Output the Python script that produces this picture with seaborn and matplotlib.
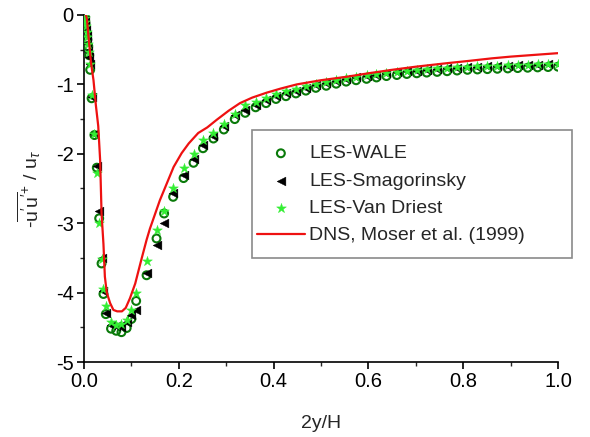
import matplotlib
matplotlib.use("Agg")
import matplotlib.pyplot as plt
from matplotlib.patches import Rectangle
import seaborn as sns
import pandas as pd

# Wall-normal coordinate of the LES grid nodes (2y/H)
x_les = [0.001, 0.002, 0.003, 0.004, 0.006, 0.007, 0.009, 0.011, 0.013, 0.016,
         0.022, 0.027, 0.032, 0.037, 0.041, 0.046, 0.057, 0.068, 0.079, 0.090,
         0.100, 0.110, 0.132, 0.153, 0.169, 0.188, 0.210, 0.231, 0.251, 0.273,
         0.295, 0.318, 0.340, 0.362, 0.384, 0.405, 0.426, 0.447, 0.468, 0.489,
         0.511, 0.532, 0.553, 0.574, 0.596, 0.617, 0.638, 0.660, 0.681, 0.702,
         0.723, 0.745, 0.766, 0.787, 0.809, 0.830, 0.851, 0.872, 0.894, 0.915,
         0.936, 0.957, 0.979, 1.000]

wale = [-0.02, -0.06, -0.12, -0.18, -0.26, -0.35, -0.45, -0.58, -0.79, -1.20,
        -1.73, -2.20, -2.93, -3.58, -4.02, -4.31, -4.52, -4.55, -4.57, -4.51,
        -4.38, -4.12, -3.75, -3.22, -2.86, -2.62, -2.35, -2.13, -1.92, -1.78,
        -1.65, -1.50, -1.41, -1.33, -1.27, -1.21, -1.17, -1.13, -1.09, -1.05,
        -1.02, -0.99, -0.96, -0.94, -0.92, -0.90, -0.88, -0.865, -0.85, -0.84,
        -0.83, -0.82, -0.81, -0.80, -0.79, -0.785, -0.78, -0.775, -0.77, -0.765,
        -0.76, -0.755, -0.75, -0.745]

smagorinsky = [-0.02, -0.07, -0.14, -0.21, -0.30, -0.40, -0.52, -0.60, -0.70, -1.18,
               -1.72, -2.17, -2.83, -3.50, -3.98, -4.30, -4.46, -4.48, -4.50, -4.43,
               -4.32, -4.25, -3.72, -3.31, -3.00, -2.57, -2.30, -2.08, -1.88, -1.74,
               -1.60, -1.44, -1.37, -1.29, -1.23, -1.17, -1.13, -1.09, -1.05, -1.01,
               -0.98, -0.95, -0.92, -0.90, -0.88, -0.86, -0.84, -0.825, -0.81, -0.80,
               -0.79, -0.78, -0.77, -0.76, -0.75, -0.745, -0.74, -0.735, -0.73, -0.725,
               -0.72, -0.715, -0.71, -0.705]

van_driest = [-0.01, -0.05, -0.10, -0.16, -0.24, -0.32, -0.42, -0.54, -0.70, -1.15,
              -1.72, -2.27, -2.99, -3.52, -3.95, -4.20, -4.43, -4.46, -4.45, -4.40,
              -4.25, -4.00, -3.54, -3.10, -2.82, -2.50, -2.21, -2.00, -1.80, -1.70,
              -1.57, -1.42, -1.30, -1.25, -1.19, -1.14, -1.10, -1.06, -1.03, -0.99,
              -0.96, -0.93, -0.91, -0.89, -0.87, -0.85, -0.83, -0.815, -0.80, -0.79,
              -0.78, -0.77, -0.76, -0.75, -0.745, -0.74, -0.735, -0.73, -0.725, -0.72,
              -0.715, -0.71, -0.705, -0.70]

# DNS reference profile
x_dns = [0.004, 0.006, 0.010, 0.015, 0.020, 0.025, 0.030, 0.034, 0.037, 0.041,
         0.044, 0.048, 0.055, 0.062, 0.070, 0.080, 0.088, 0.097, 0.108, 0.120,
         0.132, 0.139, 0.160, 0.189, 0.206, 0.221, 0.241, 0.260, 0.280, 0.305,
         0.329, 0.355, 0.385, 0.415, 0.449, 0.500, 0.554, 0.600, 0.650, 0.700,
         0.765, 0.814, 0.860, 0.900, 0.950, 1.000]
dns = [0.00, -0.05, -0.35, -0.70, -0.94, -1.30, -1.60, -2.09, -2.86, -3.30,
       -3.77, -4.00, -4.15, -4.25, -4.27, -4.27, -4.22, -4.08, -3.87, -3.55,
       -3.24, -3.08, -2.67, -2.19, -1.99, -1.85, -1.70, -1.62, -1.51, -1.38,
       -1.27, -1.19, -1.12, -1.06, -1.00, -0.94, -0.89, -0.84, -0.79, -0.745,
       -0.695, -0.66, -0.625, -0.60, -0.575, -0.55]

labels = ["LES-WALE", "LES-Smagorinsky", "LES-Van Driest", "DNS, Moser et al. (1999)"]
x_ticks = [0.0, 0.2, 0.4, 0.6, 0.8, 1.0]
x_ticklabels = ["0.0", "0.2", "0.4", "0.6", "0.8", "1.0"]
y_ticks = [0, -1, -2, -3, -4, -5]
y_ticklabels = ["0", "-1", "-2", "-3", "-4", "-5"]

sns.set_theme(style="ticks")
plt.rcParams["font.family"] = ["Liberation Sans", "DejaVu Sans"]
plt.rcParams["mathtext.fontset"] = "custom"
plt.rcParams["mathtext.rm"] = "Liberation Sans"
plt.rcParams["mathtext.it"] = "Liberation Sans:italic"
plt.rcParams["mathtext.sf"] = "Liberation Sans"
plt.rcParams["axes.unicode_minus"] = False

les = pd.DataFrame({"x": x_les, "wale": wale, "smag": smagorinsky, "vd": van_driest})
ref = pd.DataFrame({"x": x_dns, "dns": dns})

fig = plt.figure(figsize=(5.9, 4.37), dpi=100)
ax = fig.add_axes([0.1424, 0.1716, 0.8034, 0.7941])

sns.scatterplot(data=les, x="x", y="wale", ax=ax, marker="o", s=32,
                facecolors="none", edgecolor="#0a7a0a", linewidth=1.5,
                label=labels[0], zorder=3)
sns.scatterplot(data=les, x="x", y="smag", ax=ax, marker="<", s=40,
                color="black", edgecolor="black", linewidth=0.3,
                label=labels[1], zorder=4)
sns.scatterplot(data=les, x="x", y="vd", ax=ax, marker="*", s=55,
                color="#33ee33", edgecolor="#33ee33", linewidth=0.3,
                label=labels[2], zorder=5)
sns.lineplot(data=ref, x="x", y="dns", ax=ax, color="#ee1111", linewidth=1.6,
             sort=False, label=labels[3], zorder=6)

ax.set_xlim(0, 1)
ax.set_ylim(-5, 0)
ax.set_xticks(x_ticks)
ax.set_xticklabels(x_ticklabels)
ax.set_yticks(y_ticks)
ax.set_yticklabels(y_ticklabels)
ax.set_xticks([0.1, 0.3, 0.5, 0.7, 0.9], minor=True)
ax.set_yticks([-0.5, -1.5, -2.5, -3.5, -4.5], minor=True)
ax.tick_params(which="major", direction="out", length=5, width=1.2,
               labelsize=14.5, colors="black", pad=2.5)
ax.tick_params(which="minor", direction="out", length=3, width=1.0)

for side in ("top", "right"):
    ax.spines[side].set_visible(False)
for side in ("left", "bottom"):
    ax.spines[side].set_linewidth(1.2)
    ax.spines[side].set_color("black")

ax.set_xlabel("2y/H", fontsize=14, labelpad=17)
ax.set_ylabel(r"-$\overline{\mathrm{u'u'}}^{+}$ / u$_{\tau}$", fontsize=14, labelpad=9)

# Legend box, drawn as a plain rectangle that reaches past the right axis end
box = Rectangle((0.354, 0.300), 0.676, 0.369, transform=ax.transAxes,
                facecolor="white", edgecolor="#8a8a8a", linewidth=1.2,
                clip_on=False, zorder=9)
ax.add_patch(box)

leg = ax.legend(loc="upper left", bbox_to_anchor=(0.364, 0.626),
                frameon=False, fontsize=14, labelspacing=0.5,
                handlelength=2.5, handletextpad=0.2, borderpad=0,
                borderaxespad=0)
leg.set_zorder(10)

fig.savefig("out.png", dpi=100)
